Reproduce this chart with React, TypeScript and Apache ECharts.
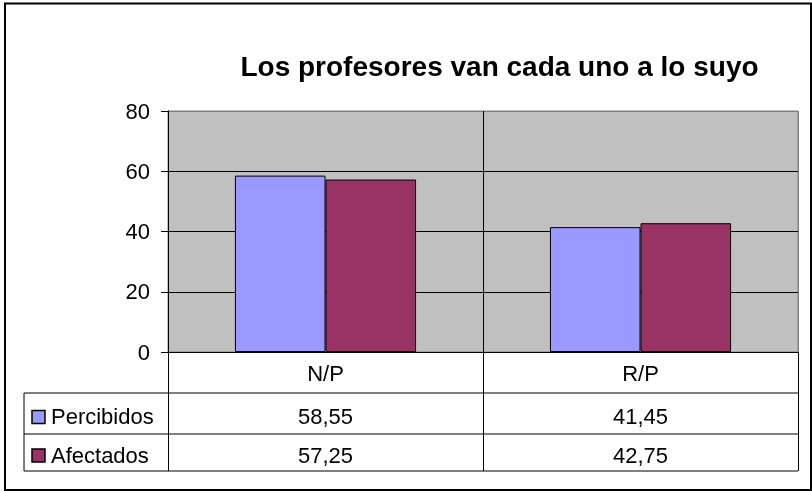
import React, { useEffect, useRef } from 'react';
import * as echarts from 'echarts';

const chartTitle = 'Los profesores van cada uno a lo suyo';
const categories = ['N/P', 'R/P'];
const seriesNames = ['Percibidos', 'Afectados'];
const percibidos = [58.55, 41.45];
const afectados = [57.25, 42.75];
const yTicks = [0, 20, 40, 60, 80];
const colors = ['#9999FF', '#993366'];

const FONT = '"Liberation Sans", Arial, sans-serif';

export default function App() {
  const ref = useRef<HTMLDivElement>(null);
  useEffect(() => {
    const chart = echarts.init(ref.current!, undefined, { renderer: 'svg' });
    const seriesData = [percibidos, afectados];
    const grid = { left: 168, top: 111, width: 630, height: 241 };
    const yMin = yTicks[0];
    const yMax = yTicks[yTicks.length - 1];
    const yInterval = yTicks[1] - yTicks[0];

    chart.setOption({
      animation: false,
      title: {
        text: chartTitle,
        left: 499.5,
        top: 52,
        padding: 0,
        textAlign: 'center',
        textStyle: { fontFamily: FONT, fontSize: 28, fontWeight: 'bold', color: '#000' },
      },
      grid: {
        ...grid,
        show: true,
        backgroundColor: '#C0C0C0',
        borderColor: '#808080',
        borderWidth: 1,
        containLabel: false,
      },
      xAxis: {
        type: 'category',
        data: categories,
        axisLine: { show: true, lineStyle: { color: '#000', width: 1 } },
        axisTick: { show: true, length: 119, interval: 0, lineStyle: { color: '#000', width: 1 } },
        axisLabel: { fontFamily: FONT, fontSize: 22, color: '#000', margin: 10, interval: 0 },
        splitLine: { show: true, interval: 0, lineStyle: { color: ['#000', '#000', '#808080'], width: 1 } },
      },
      yAxis: {
        type: 'value',
        min: yMin,
        max: yMax,
        interval: yInterval,
        axisLine: { show: true, lineStyle: { color: '#000', width: 1 } },
        axisTick: { show: true, length: 7, lineStyle: { color: '#000', width: 1 } },
        axisLabel: { fontFamily: FONT, fontSize: 22, color: '#000', margin: 18 },
        splitLine: { show: true, lineStyle: { color: ['#000', '#000', '#000', '#000', '#808080'], width: 1 } },
      },
      series: seriesNames.map((name, i) => ({
        name,
        type: 'bar',
        data: seriesData[i],
        barGap: '0%',
        barCategoryGap: '42.5%',
        itemStyle: { color: colors[i], borderColor: '#000', borderWidth: 1 },
      })),
    });

    const fmt = (v: number) => v.toFixed(2).replace('.', ',');
    const tableLeft = 24;
    const tableRight = grid.left + grid.width;
    const rowLines = [393, 434, 471];
    const rowCenters = [416.5, 455];
    const centers = categories.map((c) => chart.convertToPixel({ xAxisIndex: 0 }, c) as number);

    const txt = (text: string, x: number, y: number, align: string) => ({
      type: 'text',
      x,
      y,
      z: 10,
      style: {
        text,
        font: `22px ${FONT}`,
        fill: '#000',
        textAlign: align,
        textVerticalAlign: 'middle',
        align,
        verticalAlign: 'middle',
      },
    });

    const graphics: any[] = [
      {
        type: 'rect',
        z: 10,
        shape: { x: 5, y: 3.5, width: 806, height: 486.5 },
        style: { fill: 'none', stroke: '#000', lineWidth: 2 },
      },
      ...rowLines.map((y) => ({
        type: 'line',
        z: 10,
        shape: { x1: tableLeft, y1: y, x2: tableRight, y2: y },
        style: { stroke: '#000', lineWidth: 1 },
      })),
      {
        type: 'line',
        z: 10,
        shape: { x1: tableLeft, y1: rowLines[0], x2: tableLeft, y2: rowLines[rowLines.length - 1] },
        style: { stroke: '#000', lineWidth: 1 },
      },
    ];

    seriesNames.forEach((name, i) => {
      const cy = rowCenters[i];
      graphics.push({
        type: 'rect',
        z: 10,
        shape: { x: 32, y: cy - 6, width: 13, height: 13 },
        style: { fill: colors[i], stroke: '#000', lineWidth: 1.5 },
      });
      graphics.push(txt(name, 51, cy, 'left'));
      seriesData[i].forEach((v, j) => {
        graphics.push(txt(fmt(v), centers[j], cy, 'center'));
      });
    });

    chart.setOption({ graphic: graphics });
    return () => chart.dispose();
  }, []);
  return <div ref={ref} style={{ position: 'fixed', left: 0, top: 0, width: 812, height: 491 }} />;
}
